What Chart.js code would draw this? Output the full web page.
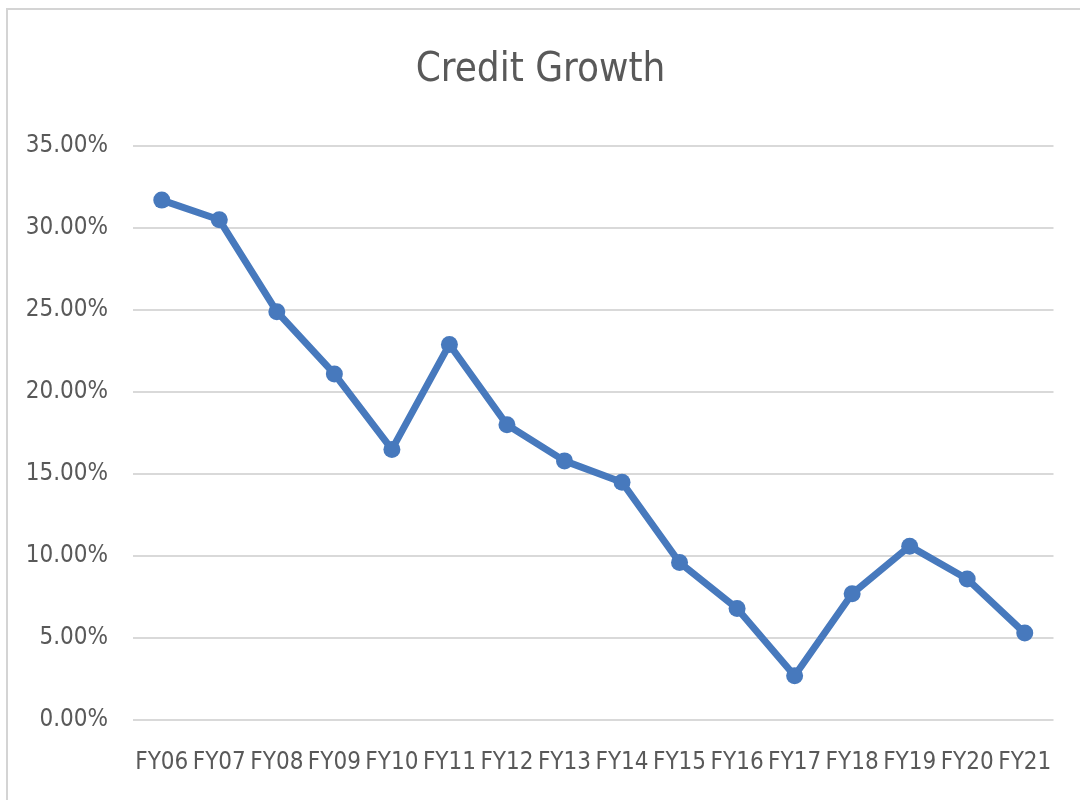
<!DOCTYPE html>
<html>
<head>
<meta charset="utf-8">
<script src="https://cdn.jsdelivr.net/npm/chart.js@4/dist/chart.umd.min.js"></script>
<style>
  html, body { margin: 0; padding: 0; background: #ffffff; }
  #wrap { position: relative; width: 1080px; height: 800px; overflow: hidden; }
  #frame { position: absolute; left: 6px; top: 8px; width: 1100px; height: 820px;
           border-left: 2px solid #d4d4d4; border-top: 2px solid #d4d4d4; pointer-events: none; }
  canvas { position: absolute; left: 0; top: 0; }
</style>
</head>
<body>
<div id="wrap">
  <canvas id="c" width="1080" height="800"></canvas>
  <div id="frame"></div>
</div>
<script>
const TITLE = "Credit Growth";
const categories = ["FY06","FY07","FY08","FY09","FY10","FY11","FY12","FY13","FY14","FY15","FY16","FY17","FY18","FY19","FY20","FY21"];
const creditGrowth = [31.7, 30.5, 24.9, 21.1, 16.5, 22.9, 18.0, 15.8, 14.5, 9.6, 6.8, 2.7, 7.7, 10.6, 8.6, 5.3];
const yMin = 0;
const yMax = 35;
const yStep = 5;

const FONT = '"DejaVu Sans Condensed", "DejaVu Sans", sans-serif';
const TEXT = '#595959';
const BLUE = '#4779BD';

new Chart(document.getElementById('c'), {
  type: 'line',
  data: {
    labels: categories,
    datasets: [{
      label: TITLE,
      data: creditGrowth,
      borderColor: BLUE,
      backgroundColor: BLUE,
      borderWidth: 7,
      tension: 0,
      pointRadius: 8.5,
      pointBorderWidth: 0,
      pointBackgroundColor: BLUE,
      borderCapStyle: 'round',
      borderJoinStyle: 'round'
    }]
  },
  options: {
    responsive: false,
    animation: false,
    layout: { padding: { left: 24, right: 23, top: 0, bottom: 0 } },
    plugins: {
      legend: { display: false },
      tooltip: { enabled: false },
      title: {
        display: true,
        text: TITLE,
        color: TEXT,
        font: { family: FONT, size: 40, weight: 'normal' },
        padding: { top: 47, bottom: 51 }
      }
    },
    scales: {
      x: {
        offset: true,
        afterFit: (s) => { s.height = 80; },
        grid: { display: false, drawTicks: false },
        border: { display: false },
        ticks: { color: TEXT, font: { family: FONT, size: 24 }, padding: 28, maxRotation: 0, autoSkip: false }
      },
      y: {
        min: yMin,
        max: yMax,
        afterFit: (s) => { s.width = 109; },
        grid: { color: '#d9d9d9', lineWidth: 2, drawTicks: false },
        border: { display: false },
        ticks: {
          stepSize: yStep,
          color: TEXT,
          padding: 25,
          font: { family: FONT, size: 24 },
          callback: (v) => Number(v).toFixed(2) + '%'
        }
      }
    }
  }
});
</script>
</body>
</html>
